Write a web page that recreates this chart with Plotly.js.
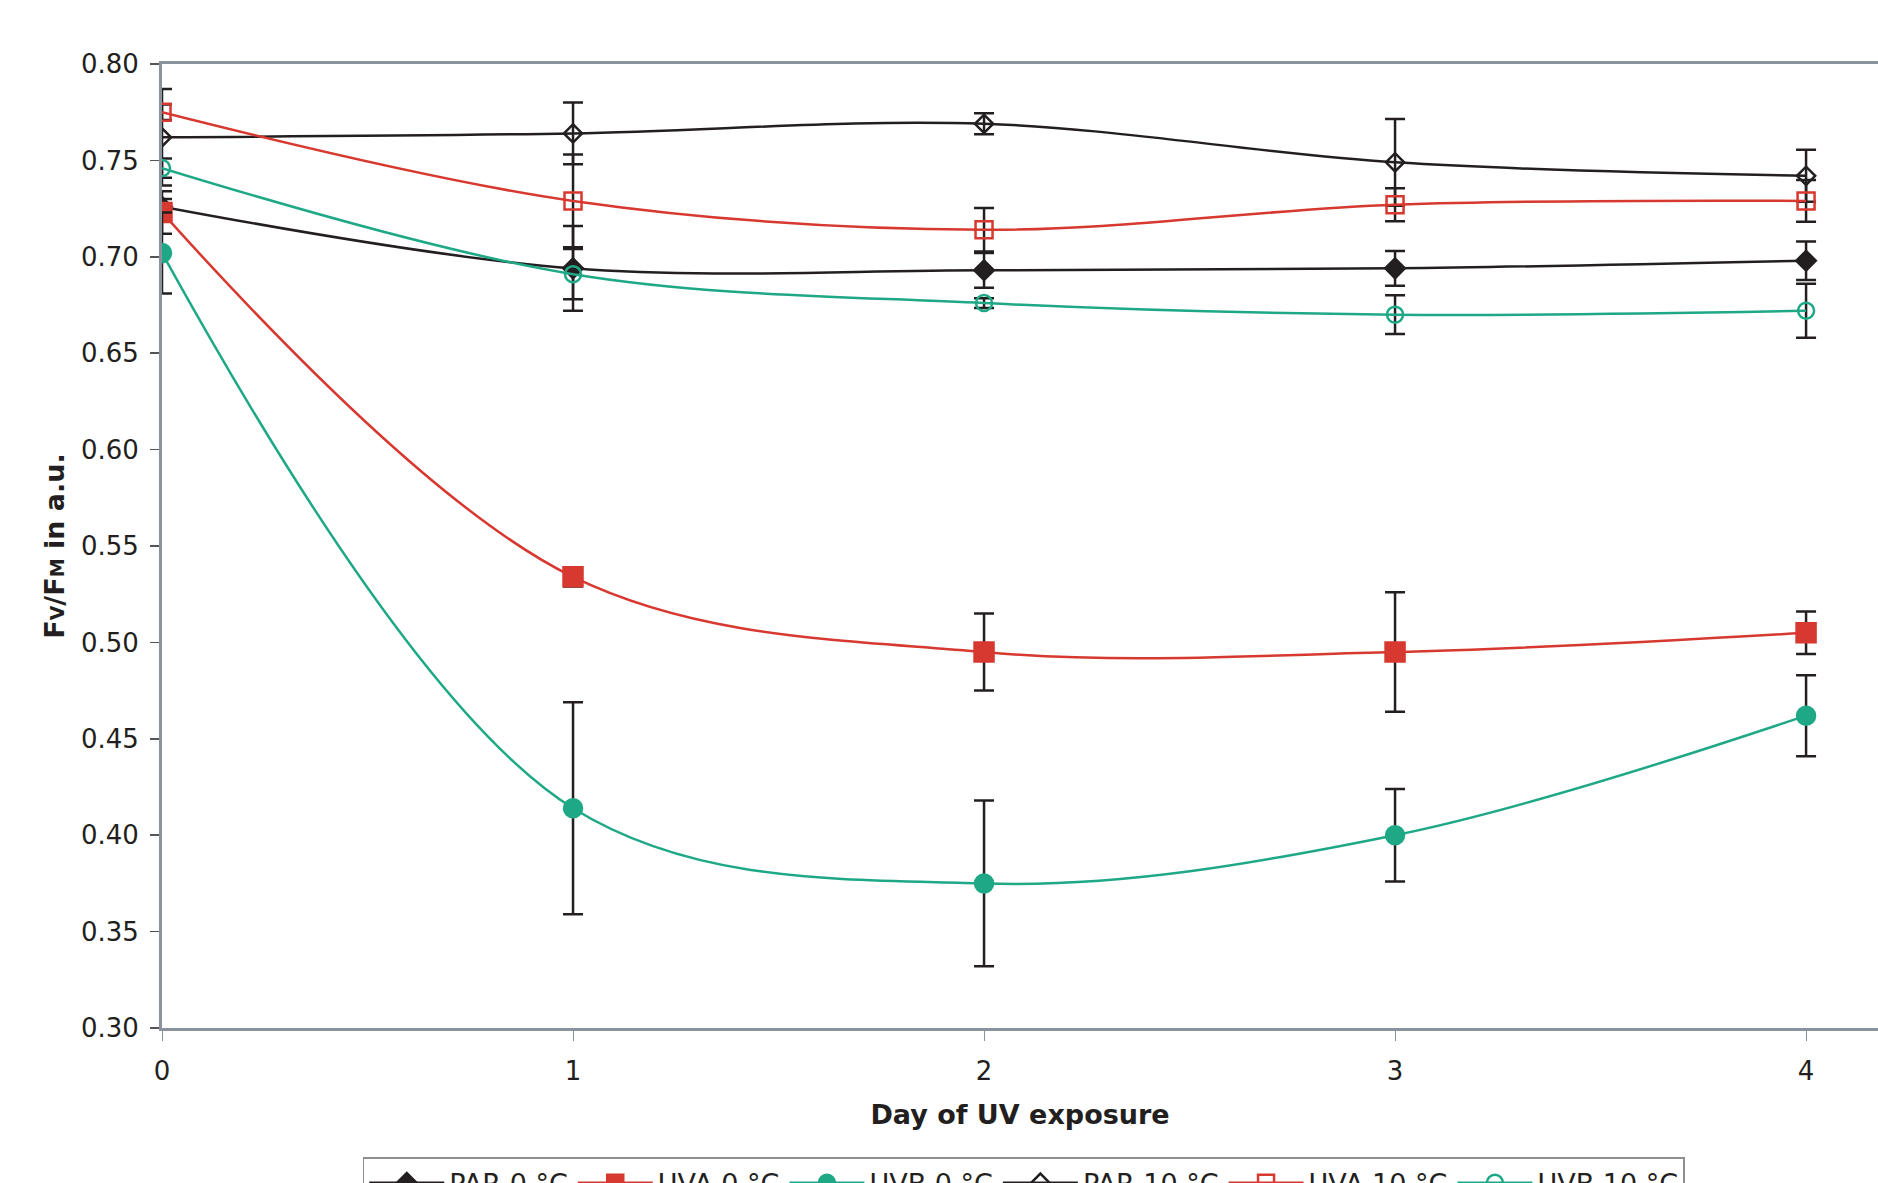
<!DOCTYPE html>
<html>
<head>
<meta charset="utf-8">
<script src="https://cdn.plot.ly/plotly-3.0.1.min.js"></script>
<style>html,body{margin:0;padding:0;background:#fff;}#chart{width:1878px;height:1183px;}</style>
</head>
<body>
<div id="chart"></div>
<script>
// Data
const days = [0, 1, 2, 3, 4];
const seriesNames = ['PAR 0 °C', 'UVA 0 °C', 'UVB 0 °C', 'PAR 10 °C', 'UVA 10 °C', 'UVB 10 °C'];
const par0  = [0.726, 0.694, 0.693, 0.694, 0.698];
const par0Err  = [0.004, 0.022, 0.009, 0.009, 0.010];
const uva0  = [0.723, 0.534, 0.495, 0.495, 0.505];
const uva0Err  = [0.011, 0.005, 0.020, 0.031, 0.011];
const uvb0  = [0.702, 0.414, 0.375, 0.400, 0.462];
const uvb0Err  = [0.021, 0.055, 0.043, 0.024, 0.021];
const par10 = [0.762, 0.764, 0.769, 0.749, 0.742];
const par10Err = [0.025, 0.016, 0.0055, 0.0225, 0.0135];
const uva10 = [0.775, 0.729, 0.714, 0.727, 0.729];
const uva10Err = [0.004, 0.024, 0.0113, 0.0085, 0.0108];
const uvb10 = [0.746, 0.691, 0.676, 0.670, 0.672];
const uvb10Err = [0.005, 0.013, 0.0025, 0.010, 0.014];
const xTickVals = [0, 1, 2, 3, 4];
const xTickText = ['0', '1', '2', '3', '4'];

const BLACK = '#231f20', RED = '#d7382f', TEAL = '#1ea886', GRAY = '#8a939b';
const FONT = 'DejaVu Sans, Verdana, sans-serif';

function mk(name, y, err, color, symbol, size) {
  return {
    type: 'scatter', mode: 'lines+markers', name: name,
    x: days, y: y,
    line: {color: color, width: 2.5, shape: 'spline', smoothing: 1},
    marker: {color: color, symbol: symbol, size: size, line: {color: color, width: 2.5}},
    error_y: {type: 'data', array: err, visible: true, color: BLACK, thickness: 2.5, width: 10}
  };
}

const data = [
  mk(seriesNames[0], par0, par0Err, BLACK, 'diamond', 15),
  mk(seriesNames[1], uva0, uva0Err, RED, 'square', 19),
  mk(seriesNames[2], uvb0, uvb0Err, TEAL, 'circle', 18),
  mk(seriesNames[3], par10, par10Err, BLACK, 'diamond-open', 14),
  mk(seriesNames[4], uva10, uva10Err, RED, 'square-open', 17),
  mk(seriesNames[5], uvb10, uvb10Err, TEAL, 'circle-open', 16)
];

const layout = {
  width: 1878, height: 1183,
  margin: {l: 162, r: 0, t: 64, b: 155, pad: 0, autoexpand: false},
  paper_bgcolor: '#ffffff', plot_bgcolor: '#ffffff',
  font: {family: FONT, size: 26, color: BLACK},
  showlegend: true,
  legend: {
    orientation: 'h', x: 0.117, xanchor: 'left', y: -0.134, yanchor: 'top',
    bordercolor: '#8f8f8f', borderwidth: 1.5, bgcolor: '#ffffff',
    font: {family: FONT, size: 27, color: BLACK}, itemwidth: 75
  },
  xaxis: {
    range: [0, 4.175], tickvals: xTickVals, ticktext: xTickText,
    showgrid: false, zeroline: false,
    showline: true, linecolor: GRAY, linewidth: 3, mirror: true,
    ticks: 'outside', ticklen: 10, tickwidth: 1, tickcolor: GRAY,
    ticklabelstandoff: 8,
    tickfont: {family: FONT, size: 26, color: BLACK},
    title: {text: '<b>Day of UV exposure</b>', font: {family: FONT, size: 27, color: BLACK}, standoff: 20}
  },
  yaxis: {
    range: [0.30, 0.80], dtick: 0.05, tick0: 0.30, tickformat: '.2f',
    showgrid: false, zeroline: false,
    showline: true, linecolor: GRAY, linewidth: 3, mirror: false,
    ticks: 'outside', ticklen: 9, tickwidth: 1.5, tickcolor: '#555555',
    ticklabelstandoff: 6,
    tickfont: {family: FONT, size: 26, color: BLACK},
    title: {text: '<b>F<span style="font-size:19px">V</span>/F<span style="font-size:19px">M</span> in a.u.</b>', font: {family: FONT, size: 27, color: BLACK}, standoff: 9}
  }
};

Plotly.newPlot('chart', data, layout, {displayModeBar: false, staticPlot: true});
</script>
</body>
</html>
